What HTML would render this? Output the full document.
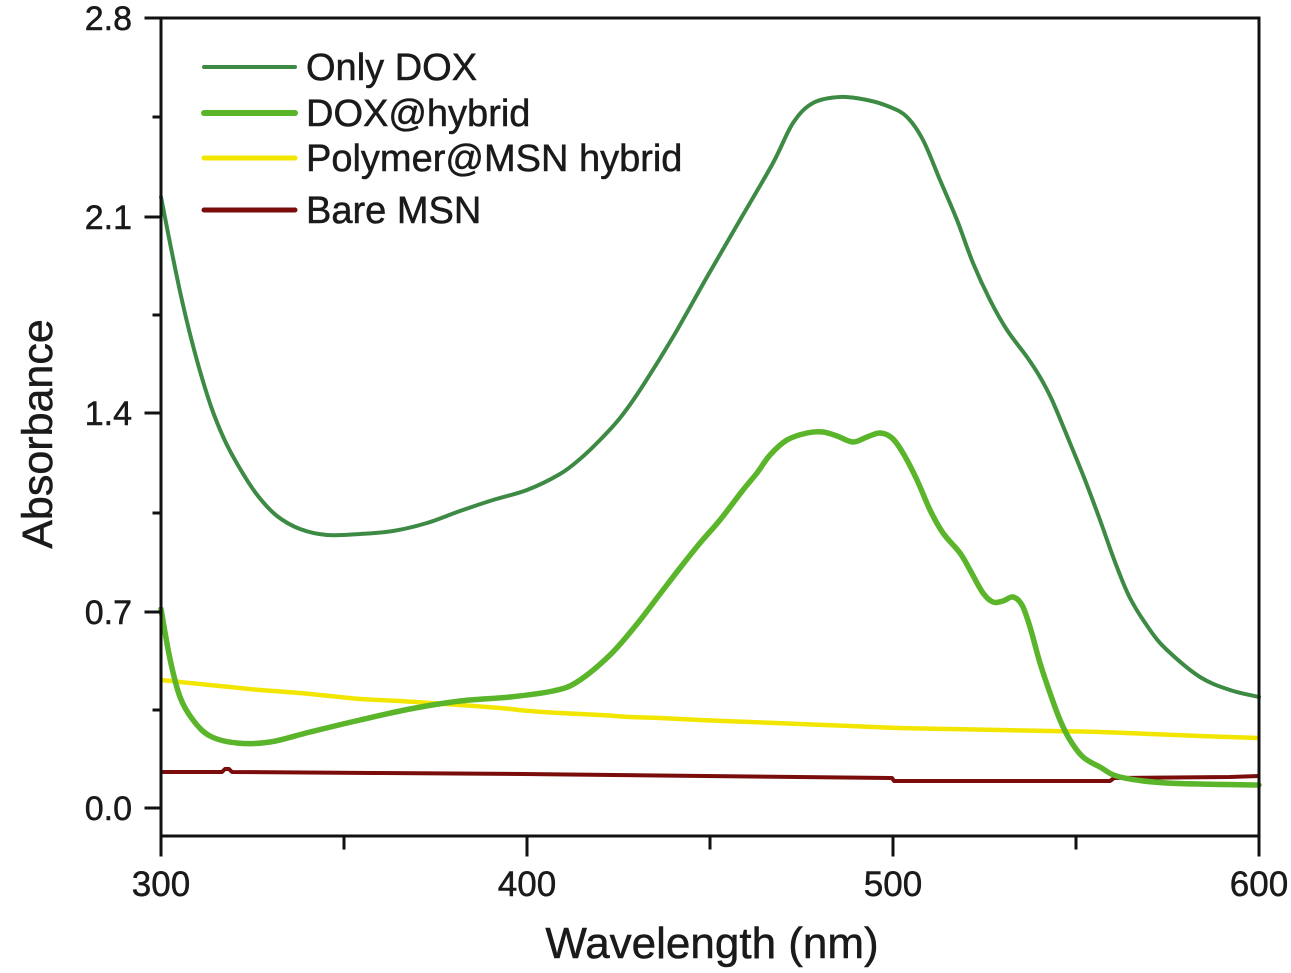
<!DOCTYPE html>
<html>
<head>
<meta charset="utf-8">
<style>
  html, body { margin: 0; padding: 0; background: #ffffff; }
  svg { display: block; }
  text { font-family: "Liberation Sans", Arial, sans-serif; fill: #1a1a1a; stroke: #1a1a1a; stroke-width: 0.5px; }
</style>
</head>
<body>
<svg id="chart" width="1291" height="973" viewBox="0 0 1291 973" xmlns="http://www.w3.org/2000/svg">
  <rect x="0" y="0" width="1291" height="973" fill="#ffffff"/>

  <!-- Bare MSN -->
  <polyline fill="none" stroke="#7a0c0c" stroke-width="4" stroke-linejoin="round"
    points="161,772 222,772 225,769 229,769 232,772 373,773 523,774 892,778 894,781 1110,781 1114,778 1230,777 1259,776"/>
  <!-- Polymer@MSN hybrid -->
  <polyline class="smooth" fill="none" stroke="#f2e600" stroke-width="4.5" stroke-linejoin="round"
    points="161,680 180,682 200,684 230,687 260,690 300,693 330,696 360,699 400,701 430,703 460,705 500,708 530,711 560,713 600,715 630,717 660,718 700,720 750,722 800,724 850,726 900,728 950,729 1000,730 1050,731 1100,732 1150,734 1200,736 1259,738"/>
  <!-- Only DOX -->
  <polyline class="smooth" fill="none" stroke="#3d8a45" stroke-width="4" stroke-linejoin="round" stroke-linecap="round"
    points="161,197 171,248 181,296 191,338 202,378 213,412 226,443 242,472 258,496 277,516 300,529 327,535 360,534 393,531 427,523 460,511 493,500 527,490 560,474 580,459 600,440 620,418 640,390 673,337 707,277 740,220 773,163 793,123 813,103 840,97 867,100 890,107 907,117 923,140 940,180 957,220 973,263 990,300 1007,330 1027,357 1040,377 1052,400 1070,443 1085,480 1100,520 1115,562 1130,598 1150,630 1167,650 1200,677 1230,690 1259,697"/>
  <!-- DOX@hybrid -->
  <polyline class="smooth" fill="none" stroke="#5ab52a" stroke-width="5.5" stroke-linejoin="round" stroke-linecap="round"
    points="161,609 170,659 180,697 193,720 210,736 237,743 270,742 310,732 360,720 410,709 460,701 510,697 553,691 577,682 610,655 637,624 660,594 680,568 700,543 720,520 743,490 757,473 770,455 787,440 807,433 823,432 837,436 853,442 867,437 880,433 892,438 903,453 917,480 930,510 943,533 960,553 970,570 983,593 993,602 1003,601 1013,597 1022,605 1030,627 1040,663 1050,693 1060,720 1070,740 1083,757 1100,767 1120,777 1167,783 1259,785"/>

  <!-- Frame -->
  <g stroke="#111" stroke-width="3" fill="none" stroke-linecap="square">
    <line x1="146" y1="18" x2="1259" y2="18"/>
    <line x1="161" y1="18" x2="161" y2="855"/>
    <line x1="1259" y1="18" x2="1259" y2="855"/>
    <line x1="161" y1="836" x2="1259" y2="836"/>
    <line x1="146" y1="217" x2="161" y2="217"/>
    <line x1="146" y1="413" x2="161" y2="413"/>
    <line x1="146" y1="612" x2="161" y2="612"/>
    <line x1="146" y1="808" x2="161" y2="808"/>
    <line x1="154" y1="117" x2="161" y2="117"/>
    <line x1="154" y1="315" x2="161" y2="315"/>
    <line x1="154" y1="513" x2="161" y2="513"/>
    <line x1="154" y1="710" x2="161" y2="710"/>
    <line x1="527" y1="836" x2="527" y2="855"/>
    <line x1="893" y1="836" x2="893" y2="855"/>
    <line x1="344" y1="836" x2="344" y2="848"/>
    <line x1="710" y1="836" x2="710" y2="848"/>
    <line x1="1076" y1="836" x2="1076" y2="848"/>
  </g>

  <!-- Y tick labels -->
  <g font-size="34" text-anchor="end">
    <text x="132" y="30">2.8</text>
    <text x="132" y="229">2.1</text>
    <text x="132" y="425">1.4</text>
    <text x="132" y="624">0.7</text>
    <text x="132" y="820">0.0</text>
  </g>

  <!-- X tick labels -->
  <g font-size="35" text-anchor="middle">
    <text x="161" y="896">300</text>
    <text x="527" y="896">400</text>
    <text x="893" y="896">500</text>
    <text x="1259" y="896">600</text>
  </g>

  <!-- Axis titles -->
  <text x="712" y="958" font-size="44" text-anchor="middle">Wavelength (nm)</text>
  <text transform="translate(52,434) rotate(-90)" font-size="43" text-anchor="middle">Absorbance</text>

  <!-- Legend -->
  <g stroke-linecap="round">
    <line x1="204" y1="67" x2="295" y2="67" stroke="#3d8a45" stroke-width="4"/>
    <line x1="204" y1="113" x2="295" y2="113" stroke="#5ab52a" stroke-width="6"/>
    <line x1="204" y1="158" x2="295" y2="158" stroke="#f2e600" stroke-width="5"/>
    <line x1="204" y1="210" x2="295" y2="210" stroke="#7a0c0c" stroke-width="5"/>
  </g>
  <g font-size="38">
    <text x="306" y="80">Only DOX</text>
    <text x="306" y="126">DOX@hybrid</text>
    <text x="306" y="171">Polymer@MSN hybrid</text>
    <text x="306" y="223">Bare MSN</text>
  </g>
</svg>
<script>
(function(){
  var ns = "http://www.w3.org/2000/svg";
  var pls = document.querySelectorAll("polyline.smooth");
  for (var k = 0; k < pls.length; k++) {
    var pl = pls[k];
    var raw = pl.getAttribute("points").trim().split(/\s+/);
    var p = [];
    for (var i = 0; i < raw.length; i++) {
      var xy = raw[i].split(",");
      p.push([parseFloat(xy[0]), parseFloat(xy[1])]);
    }
    var d = "M" + p[0][0] + "," + p[0][1];
    for (var i = 0; i < p.length - 1; i++) {
      var p0 = p[i > 0 ? i - 1 : 0], p1 = p[i], p2 = p[i + 1], p3 = p[i + 2 < p.length ? i + 2 : p.length - 1];
      var c1x = p1[0] + (p2[0] - p0[0]) / 6, c1y = p1[1] + (p2[1] - p0[1]) / 6;
      var c2x = p2[0] - (p3[0] - p1[0]) / 6, c2y = p2[1] - (p3[1] - p1[1]) / 6;
      d += " C" + c1x.toFixed(2) + "," + c1y.toFixed(2) + " " + c2x.toFixed(2) + "," + c2y.toFixed(2) + " " + p2[0] + "," + p2[1];
    }
    var path = document.createElementNS(ns, "path");
    path.setAttribute("d", d);
    var attrs = ["fill", "stroke", "stroke-width", "stroke-linejoin", "stroke-linecap"];
    for (var a = 0; a < attrs.length; a++) {
      var v = pl.getAttribute(attrs[a]);
      if (v !== null) path.setAttribute(attrs[a], v);
    }
    pl.parentNode.replaceChild(path, pl);
  }
})();
</script>
</body>
</html>
